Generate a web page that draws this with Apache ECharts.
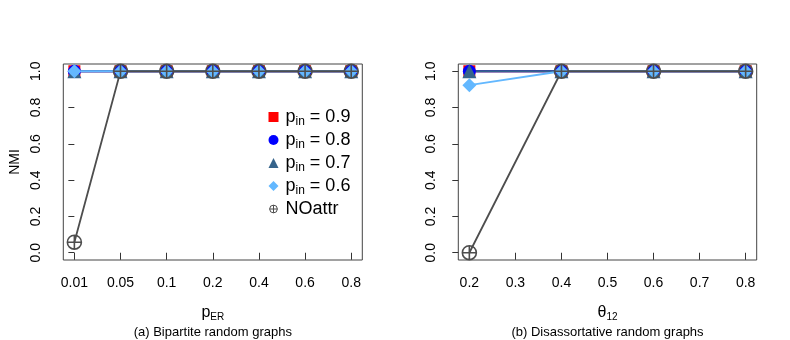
<!DOCTYPE html>
<html>
<head>
<meta charset="utf-8">
<script src="https://cdn.jsdelivr.net/npm/echarts@6/dist/echarts.min.js"></script>
<style>
  html, body { margin: 0; padding: 0; background: #fff; }
  #main { width: 790px; height: 340px; }
</style>
</head>
<body>
<div id="main"></div>
<script>
// panel (a): x is categorical, drawn at even steps
const erLabels = ['0.01', '0.05', '0.1', '0.2', '0.4', '0.6', '0.8'];
const aP09 = [1, 1, 1, 1, 1, 1, 1];
const aP08 = [1, 1, 1, 1, 1, 1, 1];
const aP07 = [1, 1, 1, 1, 1, 1, 1];
const aP06 = [1, 1, 1, 1, 1, 1, 1];
const aNoAttr = [0.058, 1, 1, 1, 1, 1, 1];

// panel (b): x is numeric theta_12
const thetaVals = [0.2, 0.4, 0.6, 0.8];
const thetaTicks = [0.2, 0.3, 0.4, 0.5, 0.6, 0.7, 0.8];
const bP09 = [1, 1, 1, 1];
const bP08 = [1, 1, 1, 1];
const bP07 = [1, 1, 1, 1];
const bP06 = [0.923, 1, 1, 1];
const bNoAttr = [0, 1, 1, 1];

const yTicks = [0, 0.2, 0.4, 0.6, 0.8, 1.0];

const FONT = '"Liberation Sans", Arial, sans-serif';
const oplus = 'path://M10,0 A10,10 0 1 1 -10,0 A10,10 0 1 1 10,0 Z M-10,0 L10,0 M0,-10 L0,10';
const oplusSmall = 'path://M-13,-13 M13,13 M10,0 A10,10 0 1 1 -10,0 A10,10 0 1 1 10,0 Z M-10,0 L10,0 M0,-10 L0,10';

const styles = [
  { name: 'p09', color: '#ff0000', symbol: 'rect', size: 12 },
  { name: 'p08', color: '#0000ff', symbol: 'circle', size: 13 },
  { name: 'p07', color: '#36648b', symbol: 'triangle', size: 14 },
  { name: 'p06', color: '#63b8ff', symbol: 'diamond', size: 14 },
  { name: 'NOattr', color: '#4d4d4d', symbol: oplus, size: 14 }
];

const myChart = echarts.init(document.getElementById('main'), null, { renderer: 'canvas' });

const makeSeries = (st, data, axisIdx) => {
  const isOplus = st.name === 'NOattr';
  return {
    name: st.name,
    type: 'line',
    xAxisIndex: axisIdx,
    yAxisIndex: axisIdx,
    data: data,
    symbol: st.symbol,
    symbolSize: st.size,
    showAllSymbol: true,
    animation: false,
    lineStyle: { color: st.color, width: 1.8 },
    itemStyle: isOplus
      ? { color: 'rgba(0,0,0,0)', borderColor: st.color, borderWidth: 1.6 }
      : { color: st.color, borderWidth: 0 },
    emphasis: { disabled: true }
  };
};

const aSets = [aP09, aP08, aP07, aP06, aNoAttr];
const bSets = [bP09, bP08, bP07, bP06, bNoAttr];

const series = [];
styles.forEach((st, k) => {
  series.push(makeSeries(st, aSets[k].map((v, i) => [i, v]), 0));
});
styles.forEach((st, k) => {
  series.push(makeSeries(st, bSets[k].map((v, i) => [thetaVals[i], v]), 1));
});

const yAxisBase = (name) => ({
  type: 'value',
  min: -0.04,
  max: 1.04,
  name: name,
  nameLocation: 'middle',
  nameGap: 41,
  nameTextStyle: { fontFamily: FONT, fontSize: 14, color: '#000' },
  axisLine: { show: false },
  splitLine: { show: false },
  axisTick: { show: true, inside: false, length: 6, customValues: yTicks, lineStyle: { color: '#333' } },
  axisLabel: {
    customValues: yTicks,
    rotate: 90,
    margin: 20,
    fontFamily: FONT,
    fontSize: 14,
    color: '#000',
    formatter: (v) => v.toFixed(1)
  }
});

const subRich = {
  a: { fontFamily: FONT, fontSize: 16, color: '#000' },
  b: { fontFamily: FONT, fontSize: 10, color: '#000', padding: [9, 0, 0, 0] }
};

const legendRich = {
  s: { fontFamily: FONT, fontSize: 18, color: '#000', padding: [0, 0, 0, 2] },
  a: { fontFamily: FONT, fontSize: 18, color: '#000' },
  b: { fontFamily: FONT, fontSize: 12, color: '#000', padding: [10, 0, 0, 0] }
};

const legendText = {
  p09: '{s|p}{b|in}{a| = 0.9}',
  p08: '{s|p}{b|in}{a| = 0.8}',
  p07: '{s|p}{b|in}{a| = 0.7}',
  p06: '{s|p}{b|in}{a| = 0.6}',
  NOattr: '{s|NOattr}'
};

myChart.setOption({
  backgroundColor: '#fff',
  animation: false,
  grid: [
    { left: 63.3, top: 64, width: 299, height: 196, show: true, borderColor: '#444', borderWidth: 1 },
    { left: 458.3, top: 64, width: 298.4, height: 196, show: true, borderColor: '#444', borderWidth: 1 }
  ],
  xAxis: [
    {
      gridIndex: 0,
      type: 'value',
      min: -0.24,
      max: 6.24,
      name: '{a|p}{b|ER}',
      nameLocation: 'middle',
      nameGap: 43,
      nameTextStyle: { rich: subRich },
      axisLine: { show: false },
      splitLine: { show: false },
      axisTick: { show: true, length: 7, customValues: [0, 1, 2, 3, 4, 5, 6], lineStyle: { color: '#333' } },
      axisLabel: {
        customValues: [0, 1, 2, 3, 4, 5, 6],
        margin: 16,
        fontFamily: FONT,
        fontSize: 14,
        color: '#000',
        formatter: (v) => erLabels[Math.round(v)]
      }
    },
    {
      gridIndex: 1,
      type: 'value',
      min: 0.176,
      max: 0.824,
      name: '{a|θ}{b|12}',
      nameLocation: 'middle',
      nameGap: 43,
      nameTextStyle: { rich: subRich },
      axisLine: { show: false },
      splitLine: { show: false },
      axisTick: { show: true, length: 7, customValues: thetaTicks, lineStyle: { color: '#333' } },
      axisLabel: {
        customValues: thetaTicks,
        margin: 16,
        fontFamily: FONT,
        fontSize: 14,
        color: '#000',
        formatter: (v) => v.toFixed(1)
      }
    }
  ],
  yAxis: [
    Object.assign(yAxisBase('NMI'), { gridIndex: 0 }),
    Object.assign(yAxisBase(''), { gridIndex: 1 })
  ],
  legend: {
    orient: 'vertical',
    left: 263,
    top: 103,
    itemWidth: 10,
    itemHeight: 10,
    itemGap: 3,
    selectedMode: false,
    formatter: (n) => legendText[n],
    textStyle: { rich: legendRich },
    data: [
      { name: 'p09', icon: 'rect', itemStyle: { color: '#ff0000' } },
      { name: 'p08', icon: 'circle', itemStyle: { color: '#0000ff' } },
      { name: 'p07', icon: 'triangle', itemStyle: { color: '#36648b' } },
      { name: 'p06', icon: 'diamond', itemStyle: { color: '#63b8ff' } },
      { name: 'NOattr', icon: oplusSmall, itemStyle: { color: 'rgba(0,0,0,0)', borderColor: '#4d4d4d', borderWidth: 1 } }
    ]
  },
  graphic: [
    { type: 'text', x: 212.8, y: 332, style: { text: '(a) Bipartite random graphs', font: '13px ' + FONT, fill: '#000', textAlign: 'center', textVerticalAlign: 'middle' } },
    { type: 'text', x: 607.5, y: 332, style: { text: '(b) Disassortative random graphs', font: '13px ' + FONT, fill: '#000', textAlign: 'center', textVerticalAlign: 'middle' } }
  ],
  series: series
});
</script>
</body>
</html>
